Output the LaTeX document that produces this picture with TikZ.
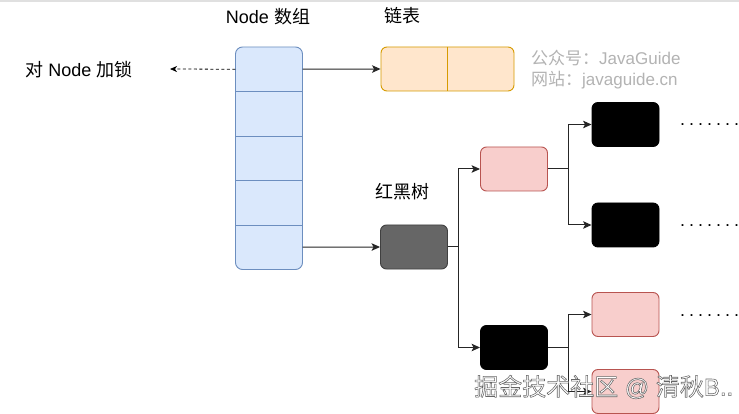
\documentclass[tikz,border=0pt]{standalone}
\usepackage{fontspec}
\setmainfont{Liberation Sans}
\newfontfamily\cjk{Noto Sans CJK SC}
\usetikzlibrary{arrows.meta}
\definecolor{arrfill}{HTML}{DAE8FC}
\definecolor{arrdraw}{HTML}{6C8EBF}
\definecolor{llfill}{HTML}{FFE6CC}
\definecolor{lldraw}{HTML}{D79B00}
\definecolor{pkfill}{HTML}{F8CECC}
\definecolor{pkdraw}{HTML}{B85450}
\definecolor{dkfill}{HTML}{666666}
\definecolor{wmgray}{HTML}{B3B3B3}
\newcommand{\dotrow}{.\hspace{4pt}.\hspace{4pt}.\hspace{4pt}.\hspace{4pt}.\hspace{4pt}.\hspace{4pt}.}
\begin{document}
\begin{tikzpicture}[x=1pt,y=-1pt,
  box/.style={rectangle,rounded corners=6pt,minimum width=67pt,minimum height=44pt,inner sep=0pt,line width=0.9pt},
  pink/.style={box,fill=pkfill,draw=pkdraw},
  blk/.style={box,fill=black,draw=black},
  lbl/.style={inner sep=0pt,font=\fontsize{18}{20}\selectfont},
  wm/.style={inner sep=0pt,anchor=west,text=wmgray,font=\fontsize{17}{19}\selectfont},
  con/.style={line width=1pt,draw=black!85,-{Stealth[length=8.5pt,width=7.5pt,inset=2pt]}},
  dashcon/.style={line width=0.8pt,dash pattern=on 3pt off 2.5pt,-{Stealth[length=7pt,width=6pt,inset=2pt]}},
  cell/.style={rectangle,minimum width=67pt,minimum height=44.5pt,inner sep=0pt}
]
\useasboundingbox (0,0) rectangle (739,414);
\fill[white] (0,0) rectangle (739,414);
\fill[black!12] (0,0) rectangle (739,2);

% labels
\node[lbl] (lblarr) at (268,17) {Node {\cjk 数组}};
\node[lbl] (lblll) at (402,16) {\cjk 链表};
\node[lbl] (lblrb) at (402,192) {\cjk 红黑树};
\node[lbl] (lock) at (79,70) {{\cjk 对} Node {\cjk 加锁}};
\coordinate (lockend) at (170,69);

% watermark
\node[wm] (wm1) at (531,58) {{\cjk 公众号：}JavaGuide};
\node[wm] (wm2) at (531,80) {{\cjk 网站：}javaguide.cn};

% array
\node[rectangle,rounded corners=7pt,minimum width=67pt,minimum height=222.5pt,inner sep=0pt,fill=arrfill,draw=arrdraw,line width=0.9pt] (arr) at (269,158.25) {};
\node[cell] (c1) at (269,69.25) {};
\node[cell] (c2) at (269,113.75) {};
\node[cell] (c3) at (269,158.25) {};
\node[cell] (c4) at (269,202.75) {};
\node[cell] (c5) at (269,247.25) {};
\foreach \c in {c1,c2,c3,c4}
  \draw[arrdraw,line width=0.9pt] (\c.south west) -- (\c.south east);

% linked list
\node[box,minimum width=133pt,fill=llfill,draw=lldraw] (ll) at (447.5,69) {};
\draw[lldraw,line width=0.9pt] (ll.north) -- (ll.south);

% tree
\node[box,fill=dkfill,draw=black!75] (rb) at (414,247) {};
\node[pink] (p1) at (514,169) {};
\node[blk] (b1) at (625.5,124.5) {};
\node[blk] (b2) at (625.5,225) {};
\node[blk] (b3) at (514,347.5) {};
\node[pink] (p2) at (625.5,314.5) {};
\node[pink] (p3) at (625.5,391.5) {};

% dots
\node[lbl,anchor=base west] (d1) at (680,126) {\dotrow};
\node[lbl,anchor=base west] (d2) at (680,227) {\dotrow};
\node[lbl,anchor=base west] (d3) at (680,316) {\dotrow};

% connectors
\draw[dashcon] (c1.west) -- (lockend);
\draw[con] (c1.east) -- (ll.west);
\draw[con] (c5.east) -- (rb.west);
\draw[con] (rb.east) -- ++(11,0) |- (p1.west);
\draw[con] (rb.east) -- ++(11,0) |- (b3.west);
\draw[con] (p1.east) -- ++(21,0) |- (b1.west);
\draw[con] (p1.east) -- ++(21,0) |- (b2.west);
\draw[con] (b3.east) -- ++(21,0) |- (p2.west);
\draw[con] (b3.east) -- ++(21,0) |- (p3.west);

% bottom watermark (white text, grey outline)
\node[inner sep=0pt,anchor=west,text=white,font=\fontsize{24}{26}\selectfont] (wm3) at (474,387) {\special{pdf:literal direct 0.4 G 2 Tr 0.55 w}{\cjk 掘金技术社区} @ {\cjk 清秋}B..\special{pdf:literal direct 0 Tr 0 G 0.4 w}};
\end{tikzpicture}
\end{document}
